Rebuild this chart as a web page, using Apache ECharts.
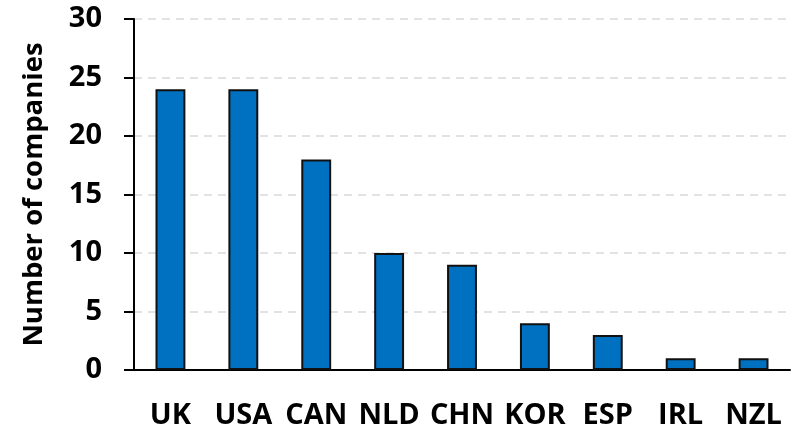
<!DOCTYPE html>
<html><head><meta charset="utf-8">
<script src="https://cdn.jsdelivr.net/npm/echarts@6/dist/echarts.min.js"></script>
<style>html,body{margin:0;padding:0;background:#fff}#c{width:792px;height:432px}</style>
</head><body><div id="c"></div>
<script>
const categories = ['UK','USA','CAN','NLD','CHN','KOR','ESP','IRL','NZL'];
const companies = [24,24,18,10,9,4,3,1,1];
const yTitle = 'Number of companies';
const FONT = '"Open Sans", sans-serif';
const chart = echarts.init(document.getElementById('c'));
chart.setOption({
  animation:false,
  grid:{left:134,right:2,top:19,bottom:62},
  xAxis:{type:'category',data:categories,
    axisLine:{lineStyle:{color:'#000',width:2}},
    axisTick:{show:false},
    axisLabel:{interval:0,color:'#000',fontFamily:FONT,fontWeight:'bold',fontSize:29,margin:31}},
  yAxis:{type:'value',min:0,max:30,interval:5,name:yTitle,nameLocation:'middle',nameGap:86,
    nameTextStyle:{color:'#000',fontFamily:FONT,fontWeight:'bold',fontSize:27.5},
    axisLine:{show:true,lineStyle:{color:'#000',width:2}},
    axisTick:{show:true,length:10,lineStyle:{color:'#000',width:2}},
    axisLabel:{color:'#000',fontFamily:FONT,fontWeight:'bold',fontSize:29,margin:32},
    splitLine:{lineStyle:{color:'#d9d9d9',type:[8,6],width:1.5}}},
  series:[{type:'bar',data:companies,barWidth:'41%',
    itemStyle:{color:'#0070C0',borderColor:'#111',borderWidth:2}}]
});
</script></body></html>
